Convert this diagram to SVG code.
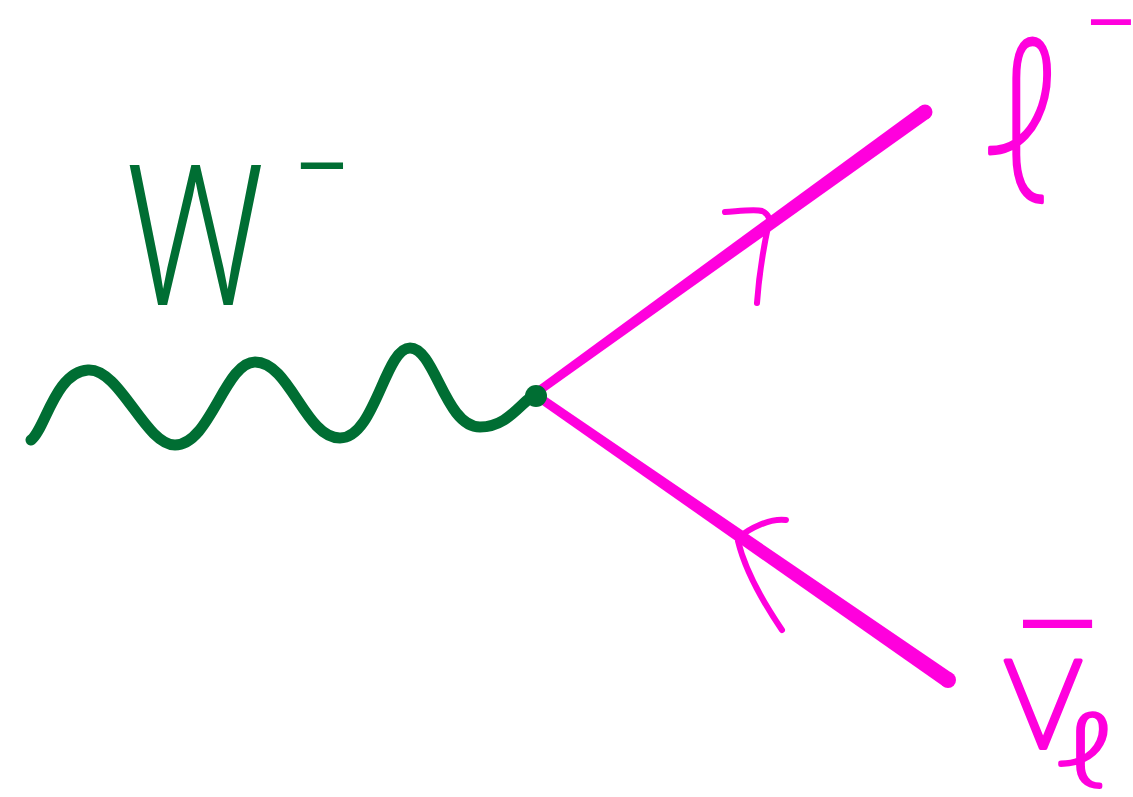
<svg xmlns="http://www.w3.org/2000/svg" width="1133" height="797" viewBox="0 0 1133 797">
<style>
.g{fill:none;stroke:#006e33;stroke-linecap:round;stroke-linejoin:round}
.m{fill:none;stroke:#ff00dd;stroke-linecap:round;stroke-linejoin:round}
.mf{fill:#ff00dd}
.tg{fill:#006e33;font-family:Roboto,"Open Sans",Lato,"Liberation Sans","DejaVu Sans",sans-serif;font-weight:300}
.tm{fill:#ff00dd;font-family:Roboto,"Open Sans","DejaVu Sans","Liberation Sans",sans-serif;font-weight:300}
.thin{font-weight:100;stroke:#ff00dd;stroke-linejoin:round;stroke-linecap:round}
</style>
<rect width="1133" height="797" fill="#ffffff"/>
<g id="connectors">
  <path id="w-boson" class="g" stroke-width="11" d="M31,440 C45,430 55,372 88,370 C120,368 145,445 175,445 C210,445 225,362 255,362 C290,362 305,438 340,438 C375,438 385,348 410,348 C435,348 445,427 480,427 C505,427 518,407 530,398"/>
  <g id="lepton-line">
    <path class="mf" d="M537.4,386.4 L920.6,105.9 L929.4,118.1 L542.6,393.6 Z"/>
    <circle class="mf" cx="925" cy="112" r="7.5"/>
    <path class="m" stroke-width="6" d="M725,212 C740,211 755,209 762,211 Q767,213 769,218"/>
    <path class="m" stroke-width="6" d="M769,222 C764,245 759,275 757,303"/>
  </g>
  <g id="antineutrino-line">
    <path class="mf" d="M542.6,394.3 L952.5,673.4 L943.5,686.6 L537.4,401.7 Z"/>
    <circle class="mf" cx="948" cy="680" r="8"/>
    <path class="m" stroke-width="6" d="M786,520 C770,518 750,528 738,538"/>
    <path class="m" stroke-width="6" d="M738,541 C745,570 765,605 782,630"/>
  </g>
</g>
<g id="vertex">
  <circle cx="536" cy="396" r="11" fill="#006e33"/>
</g>
<g id="label-W">
  <text class="tg" x="125" y="305" font-size="197" textLength="140" lengthAdjust="spacingAndGlyphs">W</text>
  <text class="tg" x="294" y="198" font-size="90" textLength="56" lengthAdjust="spacingAndGlyphs" stroke="#006e33" stroke-width="2">−</text>
</g>
<g id="label-lepton">
  <text class="tm thin" x="983" y="200" font-size="215" textLength="80" lengthAdjust="spacingAndGlyphs" stroke-width="4">ℓ</text>
  <text class="tm" x="1089" y="35" font-size="36" textLength="44" lengthAdjust="spacingAndGlyphs" stroke="#ff00dd" stroke-width="4">−</text>
</g>
<g id="label-antineutrino">
  <text class="tm thin" x="1002" y="748" font-size="165" textLength="82" lengthAdjust="spacingAndGlyphs" stroke-width="4">ν</text>
  <text class="tm" x="1010" y="712" font-size="130" textLength="93" lengthAdjust="spacingAndGlyphs" stroke="#ff00dd" stroke-width="2">¯</text>
  <text class="tm thin" x="1056" y="786" font-size="97" textLength="59" lengthAdjust="spacingAndGlyphs" stroke-width="4">ℓ</text>
</g>
</svg>
